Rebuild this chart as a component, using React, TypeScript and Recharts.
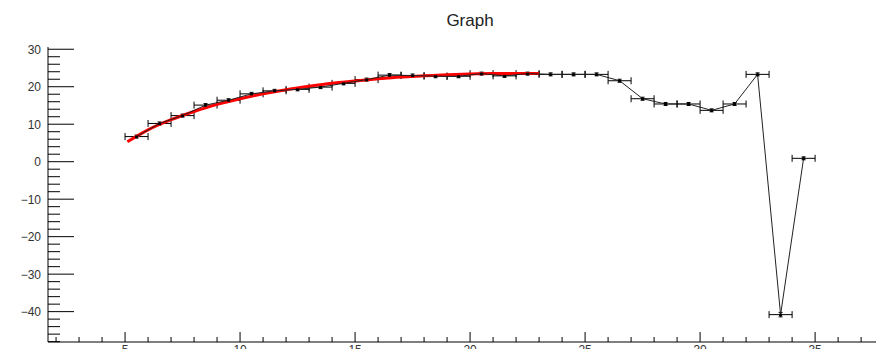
import {
  ComposedChart, Scatter, Line, XAxis, YAxis, ErrorBar,
} from 'recharts';

// measured points (x centre, y value) with their errors
const pointX = [
  5.5, 6.5, 7.5, 8.5, 9.5, 10.5, 11.5, 12.5, 13.5, 14.5,
  15.5, 16.5, 17.5, 18.5, 19.5, 20.5, 21.5, 22.5, 23.5, 24.5,
  25.5, 26.5, 27.5, 28.5, 29.5, 30.5, 31.5, 32.5, 33.5, 34.5,
];
const pointY = [
  6.7, 10.2, 12.3, 15.1, 16.4, 18.1, 18.9, 19.3, 19.9, 20.9,
  21.9, 23.1, 23.0, 22.8, 22.8, 23.5, 22.9, 23.5, 23.3, 23.3,
  23.3, 21.6, 16.8, 15.4, 15.4, 13.7, 15.4, 23.3, -40.8, 0.9,
];
const errX = [
  0.5, 0.5, 0.5, 0.5, 0.5, 0.5, 0.5, 0.5, 0.5, 0.5,
  0.5, 0.5, 0.5, 0.5, 0.5, 0.5, 0.5, 0.5, 0.5, 0.5,
  0.5, 0.5, 0.5, 0.5, 0.5, 0.5, 0.5, 0.5, 0.5, 0.5,
];
const errY = [
  0.4, 0.4, 0.4, 0.4, 0.4, 0.4, 0.4, 0.4, 0.4, 0.4,
  0.4, 0.4, 0.4, 0.4, 0.4, 0.4, 0.4, 0.4, 0.4, 0.4,
  0.4, 0.4, 0.4, 0.4, 0.4, 0.4, 0.4, 0.4, 0.6, 0.4,
];

// red fit curve
const fitX = [5.1, 6, 7, 8, 9, 10, 11, 12, 13, 14, 15, 16, 17, 18, 19, 20, 21, 22, 23];
const fitY = [5.3, 8.5, 11.2, 13.4, 15.3, 16.8, 18.1, 19.2, 20.1, 20.9, 21.5, 22.1, 22.6, 22.9, 23.2, 23.4, 23.5, 23.5, 23.5];

const xTicks = [
  2, 3, 4, 5, 6, 7, 8, 9, 10, 11, 12, 13, 14, 15, 16, 17, 18, 19, 20,
  21, 22, 23, 24, 25, 26, 27, 28, 29, 30, 31, 32, 33, 34, 35, 36, 37, 38,
];
const yTicks = [
  -48, -46, -44, -42, -40, -38, -36, -34, -32, -30, -28, -26, -24, -22, -20,
  -18, -16, -14, -12, -10, -8, -6, -4, -2, 0, 2, 4, 6, 8, 10, 12, 14, 16, 18,
  20, 22, 24, 26, 28, 30,
];

const points = pointX.map((x, i) => ({ x, y: pointY[i], ex: errX[i], ey: errY[i] }));
const fit = fitX.map((x, i) => ({ x, y: fitY[i] }));

const AXIS_LEFT = 48;
const AXIS_BOTTOM = 342;
const FONT = '"Liberation Sans", Arial, sans-serif';

const fmt = (v: number) => (v < 0 ? `\u2212${Math.abs(v)}` : String(v));

function YTick(props: any) {
  const { y, payload } = props;
  const v = payload.value as number;
  const major = v % 10 === 0;
  return (
    <g>
      <line x1={AXIS_LEFT} x2={AXIS_LEFT + (major ? 26 : 12)} y1={y} y2={y} stroke="#000" strokeWidth={1} />
      {major && (
        <text x={41} y={y} dy={4.5} textAnchor="end" fontSize={12} fill="#333" fontFamily={FONT}>
          {fmt(v)}
        </text>
      )}
    </g>
  );
}

function XTick(props: any) {
  const { x, payload } = props;
  const v = payload.value as number;
  const major = v % 5 === 0;
  return (
    <g>
      <line x1={x} x2={x} y1={AXIS_BOTTOM} y2={AXIS_BOTTOM - (major ? 10 : 5)} stroke="#000" strokeWidth={1} />
      {major && (
        <text x={x} y={354} textAnchor="middle" fontSize={12} fill="#333" fontFamily={FONT}>
          {fmt(v)}
        </text>
      )}
    </g>
  );
}

const Marker = (props: any) => (
  <rect x={props.cx - 1.5} y={props.cy - 1} width={3} height={2.5} fill="#000" />
);

export default function App() {
  return (
    <div
      style={{
        position: 'fixed', left: 0, top: 0, width: 876, height: 349,
        overflow: 'hidden', background: '#fff', fontFamily: FONT,
      }}
    >
      <div
        style={{
          position: 'absolute', left: 0, top: 11, width: 940, textAlign: 'center',
          fontSize: 17, color: '#222',
        }}
      >
        Graph
      </div>
      <div style={{ position: 'absolute', left: 0, top: 0 }}>
        <ComposedChart width={920} height={400} margin={{ top: 47, right: 29, bottom: 28, left: 0 }}>
          <XAxis
            dataKey="x"
            type="number"
            domain={[1.65, 38.3]}
            ticks={xTicks}
            interval={0}
            allowDataOverflow
            height={30}
            tickLine={false}
            axisLine={{ stroke: '#000', strokeWidth: 1 }}
            tick={<XTick />}
          />
          <XAxis
            xAxisId="top"
            orientation="top"
            type="number"
            domain={[1.65, 38.3]}
            height={0}
            tick={false}
            tickLine={false}
            axisLine={{ stroke: '#333', strokeWidth: 1.5 }}
          />
          <YAxis
            type="number"
            domain={[-48.1, 30.6]}
            ticks={yTicks}
            interval={0}
            allowDataOverflow
            width={48}
            tickLine={false}
            axisLine={{ stroke: '#000', strokeWidth: 1 }}
            tick={<YTick />}
          />
          <Scatter
            data={points}
            dataKey="y"
            isAnimationActive={false}
            line={{ stroke: '#222', strokeWidth: 1 }}
            shape={<Marker />}
          >
            <ErrorBar dataKey="ex" direction="x" width={3.5} stroke="#000" strokeWidth={1} isAnimationActive={false} />
            <ErrorBar dataKey="ey" direction="y" width={2} stroke="#000" strokeWidth={1} isAnimationActive={false} />
          </Scatter>
          <Line
            data={fit}
            dataKey="y"
            type="monotone"
            stroke="#ff0000"
            strokeWidth={3}
            dot={false}
            activeDot={false}
            isAnimationActive={false}
          />
        </ComposedChart>
      </div>
    </div>
  );
}
